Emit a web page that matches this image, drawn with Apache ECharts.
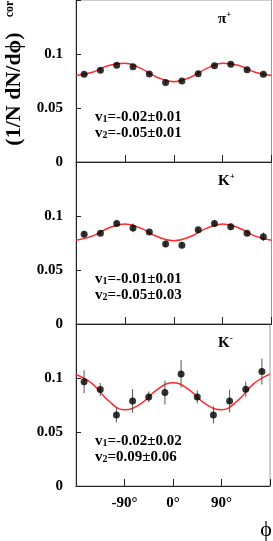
<!DOCTYPE html>
<html><head><meta charset="utf-8">
<script src="https://cdn.jsdelivr.net/npm/echarts@6/dist/echarts.min.js"></script>
<style>html,body{margin:0;padding:0;background:#fff}#c{width:273px;height:541px}</style>
</head><body><div id="c"></div>
<script>
// ---- data ----
const phi = [-165,-135,-105,-75,-45,-15,15,45,75,105,135,165];
const piPlus = [0.0812,0.0849,0.0895,0.0883,0.0815,0.0735,0.0750,0.0818,0.0892,0.0904,0.0855,0.0812];
const piPlusErr = [0.0015,0.0015,0.0015,0.0015,0.0015,0.0015,0.0015,0.0015,0.0015,0.0015,0.0015,0.0015];
const kPlus = [0.0832,0.0841,0.0931,0.0890,0.0853,0.0741,0.0729,0.0872,0.0931,0.0900,0.0841,0.0807];
const kPlusErr = [0.003,0.002,0.003,0.004,0.002,0.003,0.003,0.002,0.003,0.003,0.002,0.004];
const kMinus = [0.0966,0.0893,0.0658,0.0787,0.0825,0.0865,0.1038,0.0825,0.0658,0.0787,0.0896,0.1060];
const kMinusErr = [0.0107,0.006,0.007,0.011,0.005,0.011,0.0127,0.006,0.008,0.0105,0.007,0.012];
const phiFit = [-180,-150,-120,-90,-60,-30,0,30,60,90,120,150,180];
const piPlusFit = [0.0800,0.0831,0.0893,0.0914,0.0865,0.0783,0.0744,0.0783,0.0865,0.0914,0.0893,0.0831,0.0800];
const kPlusFit = [0.0776,0.0814,0.0889,0.0925,0.0885,0.0808,0.0770,0.0808,0.0885,0.0925,0.0889,0.0814,0.0776];
const kMinusFit = [0.1032,0.0948,0.0790,0.0706,0.0760,0.0890,0.0957,0.0890,0.0760,0.0706,0.0790,0.0948,0.1036];
const particleLabels = [['π','+'],['K','+'],['K','-']];
const v1Text = ['-0.02±0.01','-0.01±0.01','-0.02±0.02'];
const v2Text = ['-0.05±0.01','-0.05±0.03','0.09±0.06'];
const yTickLabels = ['0','0.05','0.1',''];
const xTickLabels = {'-90':'-90°','0':'0°','90':'90°'};

// ---- chart ----
const SERIF = '"Liberation Serif","DejaVu Serif",serif';
const panels = [
  {pts: piPlus, err: piPlusErr, fit: piPlusFit},
  {pts: kPlus, err: kPlusErr, fit: kPlusFit},
  {pts: kMinus, err: kMinusErr, fit: kMinusFit}
];
const tops = [0,162,324];
const H = 162;
const grid = [], xAxis = [], yAxis = [], series = [], graphic = [];
panels.forEach((p,i)=>{
  grid.push({left:76, width:195.5, top:tops[i], height:H, show:true, borderColor:'#999', borderWidth:1, backgroundColor:'transparent'});
  xAxis.push({gridIndex:i, type:'value', min:-180, max:180, interval:90,
    axisLine:{show:true, onZero:false, lineStyle:{color:'#222', width:1}},
    axisTick:{show:true, inside:true, length:7, lineStyle:{color:'#222'}},
    splitLine:{show:false},
    axisLabel:{show:i===2, margin:10, color:'#000', fontFamily:SERIF, fontWeight:'bold', fontSize:15,
      formatter: v => xTickLabels[String(v)] || ''}
  });
  yAxis.push({gridIndex:i, type:'value', min:0, max:0.15, interval:0.05,
    axisLine:{show:true, onZero:false, lineStyle:{color:'#222', width:1}},
    axisTick:{show:true, inside:true, length:5, lineStyle:{color:'#222'}},
    splitLine:{show:false},
    axisLabel:{margin:13, color:'#000', fontFamily:SERIF, fontWeight:'bold', fontSize:15,
      formatter: v => yTickLabels[Math.round(v/0.05)]}
  });
  series.push({type:'line', xAxisIndex:i, yAxisIndex:i, data: phiFit.map((x,k)=>[x,p.fit[k]]),
    smooth:0.45, showSymbol:false, lineStyle:{color:'#ff2a2a', width:1.5}, z:2, silent:true});
  series.push({type:'custom', xAxisIndex:i, yAxisIndex:i, z:3, silent:true,
    data: phi.map((x,k)=>[x,p.pts[k],p.err[k]]),
    renderItem:(params, api)=>{
      const x = api.value(0), y = api.value(1), e = api.value(2);
      const a = api.coord([x,y-e]), b = api.coord([x,y+e]);
      return {type:'line', shape:{x1:a[0],y1:a[1],x2:b[0],y2:b[1]}, style:{stroke:'#555', lineWidth:1}};
    }});
  series.push({type:'scatter', xAxisIndex:i, yAxisIndex:i, data: phi.map((x,k)=>[x,p.pts[k]]),
    symbol:'circle', symbolSize:7, itemStyle:{color:'#000'}, z:5, silent:true});
  // particle label
  graphic.push({type:'text', x:218, y:tops[i]+19, style:{
    text: particleLabels[i][0]+'{sup|'+particleLabels[i][1]+'}',
    fill:'#000', font:'bold 15px '+SERIF, align:'left', verticalAlign:'middle',
    textAlign:'left', textVerticalAlign:'middle',
    rich:{sup:{fontSize:9, fontFamily:SERIF, fontWeight:'bold', verticalAlign:'top', lineHeight:17, fill:'#000'}}
  }});
  // v1, v2
  [['1',v1Text[i],117],['2',v2Text[i],133]].forEach(([n,t,dy])=>{
    graphic.push({type:'text', x:95, y:tops[i]+dy, style:{
      text: 'v{sub|'+n+'}{m|='+t+'}',
      fill:'#000', font:'bold 15px '+SERIF, align:'left', verticalAlign:'middle',
      textAlign:'left', textVerticalAlign:'middle',
      rich:{
        m:{fontSize:15, fontFamily:SERIF, fontWeight:'bold', lineHeight:15, fill:'#000'},
        sub:{fontSize:10, fontFamily:SERIF, fontWeight:'bold', verticalAlign:'bottom', lineHeight:8, fill:'#000'}
      }
    }});
  });
});
// y title
graphic.push({type:'text', x:14, y:89, rotation:Math.PI/2, style:{
  text:'(1/N dN/dϕ)', fill:'#000', font:'bold 22px '+SERIF,
  align:'center', verticalAlign:'middle', textAlign:'center', textVerticalAlign:'middle'}});
graphic.push({type:'text', x:10, y:9, rotation:Math.PI/2, style:{
  text:'cor', fill:'#000', font:'bold 12px '+SERIF,
  align:'center', verticalAlign:'middle', textAlign:'center', textVerticalAlign:'middle'}});
graphic.push({type:'text', x:266, y:530, style:{
  text:'ϕ', fill:'#000', font:'22px '+SERIF,
  align:'center', verticalAlign:'middle', textAlign:'center', textVerticalAlign:'middle'}});

const chart = echarts.init(document.getElementById('c'), null, {renderer:'canvas'});
chart.setOption({animation:false, backgroundColor:'#fff', grid, xAxis, yAxis, series, graphic});
</script>
</body></html>
